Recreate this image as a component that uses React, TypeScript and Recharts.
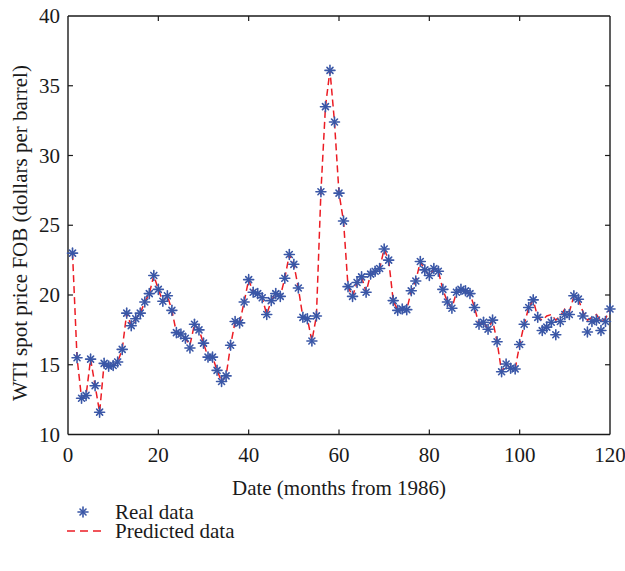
import { ComposedChart, Line, Scatter, XAxis, YAxis, ReferenceLine } from 'recharts'

// months from 1986 (1..120)
const months = Array.from({ length: 120 }, (_, i) => i + 1)

const realPrice = [
  23.0, 15.5, 12.6, 12.8, 15.4, 13.5, 11.6, 15.1, 14.9, 14.95,
  15.2, 16.1, 18.7, 17.8, 18.3, 18.7, 19.5, 20.1, 21.4, 20.4,
  19.55, 19.95, 18.9, 17.3, 17.2, 16.9, 16.2, 17.9, 17.5, 16.55,
  15.55, 15.55, 14.6, 13.8, 14.2, 16.4, 18.1, 18.0, 19.5, 21.1,
  20.2, 20.1, 19.8, 18.6, 19.6, 20.1, 19.9, 21.2, 22.9, 22.2,
  20.5, 18.4, 18.3, 16.7, 18.5, 27.4, 33.5, 36.1, 32.4, 27.3,
  25.3, 20.6, 19.9, 20.9, 21.3, 20.2, 21.5, 21.7, 21.9, 23.3,
  22.5, 19.6, 18.9, 19.0, 18.95, 20.3, 21.0, 22.4, 21.8, 21.4,
  21.9, 21.7, 20.4, 19.5, 19.05, 20.2, 20.4, 20.3, 20.1, 19.1,
  17.9, 18.05, 17.55, 18.2, 16.65, 14.5, 15.05, 14.75, 14.7, 16.45,
  17.9, 19.1, 19.65, 18.4, 17.45, 17.7, 18.05, 17.15, 18.1, 18.6,
  18.6, 19.95, 19.7, 18.5, 17.35, 18.1, 18.2, 17.45, 18.1, 19.0,
]

const predictedPrice = [
  23.0, 15.5, 12.6, 12.8, 15.4, 13.5, 11.6, 15.1, 14.9, 14.95,
  15.2, 16.1, 18.7, 17.8, 18.3, 18.7, 19.5, 20.1, 21.4, 20.4,
  19.55, 19.95, 18.9, 17.3, 17.2, 16.9, 16.4, 17.9, 17.5, 16.55,
  15.55, 15.55, 14.6, 13.8, 14.2, 16.4, 18.1, 18.0, 19.5, 21.1,
  20.2, 20.1, 19.8, 18.6, 19.6, 20.1, 19.9, 21.2, 22.9, 22.2,
  20.5, 18.4, 18.3, 16.7, 18.5, 27.4, 33.5, 36.1, 32.4, 27.3,
  25.3, 20.6, 19.9, 20.9, 21.3, 20.2, 21.5, 21.7, 21.9, 23.3,
  22.5, 19.6, 18.9, 19.0, 18.95, 20.3, 21.0, 22.4, 21.8, 21.4,
  21.9, 21.7, 20.4, 19.5, 19.05, 20.2, 20.4, 20.3, 20.1, 19.1,
  17.9, 18.05, 17.55, 18.2, 16.65, 14.5, 15.05, 14.75, 14.7, 16.45,
  17.9, 19.1, 19.65, 18.4, 18.2, 18.5, 18.6, 18.2, 18.5, 19.0,
  18.8, 19.9, 19.7, 18.8, 18.2, 18.4, 18.6, 18.1, 18.3, 19.0,
]

const xTicks = [0, 20, 40, 60, 80, 100, 120]
const yTicks = [10, 15, 20, 25, 30, 35, 40]

const data = months.map((m, i) => ({ month: m, real: realPrice[i], pred: predictedPrice[i] }))

const X_MIN = 0
const X_MAX = 120
const Y_MIN = 10
const Y_MAX = 40
// inward tick length in axis units (about 5px)
const TICK_DX = 1.1
const TICK_DY = 0.36

const BLUE = '#3a57a7'
const RED = '#ec1c24'
const INK = '#1a1a1a'
const FONT = '"Liberation Serif", "DejaVu Serif", serif'
const FS = 21

function Star(props: any) {
  const { cx, cy } = props
  if (cx == null || cy == null) return null
  return (
    <g stroke={BLUE} strokeWidth={1.6} strokeLinecap="round">
      <line x1={cx - 5} y1={cy} x2={cx + 5} y2={cy} />
      <line x1={cx} y1={cy - 5} x2={cx} y2={cy + 5} />
      <line x1={cx - 3} y1={cy - 3} x2={cx + 3} y2={cy + 3} />
      <line x1={cx - 3} y1={cy + 3} x2={cx + 3} y2={cy - 3} />
    </g>
  )
}

function XTick({ x, payload }: any) {
  return (
    <text x={x} y={462} textAnchor="middle" fontSize={FS} fontFamily={FONT} fill={INK}>
      {payload.value}
    </text>
  )
}

function YTick({ y, payload }: any) {
  return (
    <text x={60} y={y + 7} textAnchor="end" fontSize={FS} fontFamily={FONT} fill={INK}>
      {payload.value}
    </text>
  )
}

const frameProps = { xAxisId: 'main', yAxisId: 'main', stroke: INK, strokeWidth: 1.4, ifOverflow: 'visible' as const }
const tickProps = { xAxisId: 'main', yAxisId: 'main', stroke: INK, strokeWidth: 1.2, ifOverflow: 'visible' as const }

export default function App() {
  return (
    <div style={{ position: 'absolute', left: 0, top: 0, width: 625, height: 571, background: '#fff' }}>
      <ComposedChart
        width={625}
        height={571}
        data={data}
        margin={{ top: 16, right: 15, left: 0, bottom: 66.5 }}
      >
        <XAxis
          xAxisId="main"
          dataKey="month"
          type="number"
          domain={[X_MIN, X_MAX]}
          ticks={xTicks}
          height={70}
          tick={<XTick />}
          axisLine={false}
          tickLine={false}
          label={{
            value: 'Date (months from 1986)',
            position: 'insideBottom',
            offset: 10,
            style: { fontSize: FS, fill: INK, fontFamily: FONT },
          }}
        />
        <YAxis
          yAxisId="main"
          type="number"
          domain={[Y_MIN, Y_MAX]}
          ticks={yTicks}
          width={68}
          tick={<YTick />}
          axisLine={false}
          tickLine={false}
          label={() => (
            <text
              x={27}
              y={233}
              transform="rotate(-90 27 233)"
              textAnchor="middle"
              fontSize={FS}
              fill={INK}
              fontFamily={FONT}
            >
              WTI spot price FOB (dollars per barrel)
            </text>
          )}
        />

        {/* inward ticks on all four sides */}
        {xTicks.slice(1, -1).map((t) => (
          <ReferenceLine key={'b' + t} {...tickProps} segment={[{ x: t, y: Y_MIN }, { x: t, y: Y_MIN + TICK_DY }]} />
        ))}
        {xTicks.slice(1, -1).map((t) => (
          <ReferenceLine key={'t' + t} {...tickProps} segment={[{ x: t, y: Y_MAX }, { x: t, y: Y_MAX - TICK_DY }]} />
        ))}
        {yTicks.slice(1, -1).map((t) => (
          <ReferenceLine key={'l' + t} {...tickProps} segment={[{ x: X_MIN, y: t }, { x: X_MIN + TICK_DX, y: t }]} />
        ))}
        {yTicks.slice(1, -1).map((t) => (
          <ReferenceLine key={'r' + t} {...tickProps} segment={[{ x: X_MAX, y: t }, { x: X_MAX - TICK_DX, y: t }]} />
        ))}

        <Line
          xAxisId="main"
          yAxisId="main"
          type="linear"
          dataKey="pred"
          name="Predicted data"
          stroke={RED}
          strokeWidth={1.5}
          strokeDasharray="7 4"
          dot={false}
          activeDot={false}
          isAnimationActive={false}
        />
        <Scatter
          xAxisId="main"
          yAxisId="main"
          dataKey="real"
          name="Real data"
          shape={<Star />}
          isAnimationActive={false}
        />

        {/* box frame */}
        <ReferenceLine {...frameProps} x={X_MIN} />
        <ReferenceLine {...frameProps} x={X_MAX} />
        <ReferenceLine {...frameProps} y={Y_MIN} />
        <ReferenceLine {...frameProps} y={Y_MAX} />
      </ComposedChart>
      <svg
        width={300}
        height={60}
        style={{ position: 'absolute', left: 0, top: 500, fontFamily: FONT }}
      >
        <Star cx={83} cy={12} />
        <text x={115} y={19} fontSize={FS} fill={INK}>Real data</text>
        <line x1={67} y1={31} x2={101} y2={31} stroke={RED} strokeWidth={1.5} strokeDasharray="8 5" />
        <text x={115} y={38} fontSize={FS} fill={INK}>Predicted data</text>
      </svg>
    </div>
  )
}
